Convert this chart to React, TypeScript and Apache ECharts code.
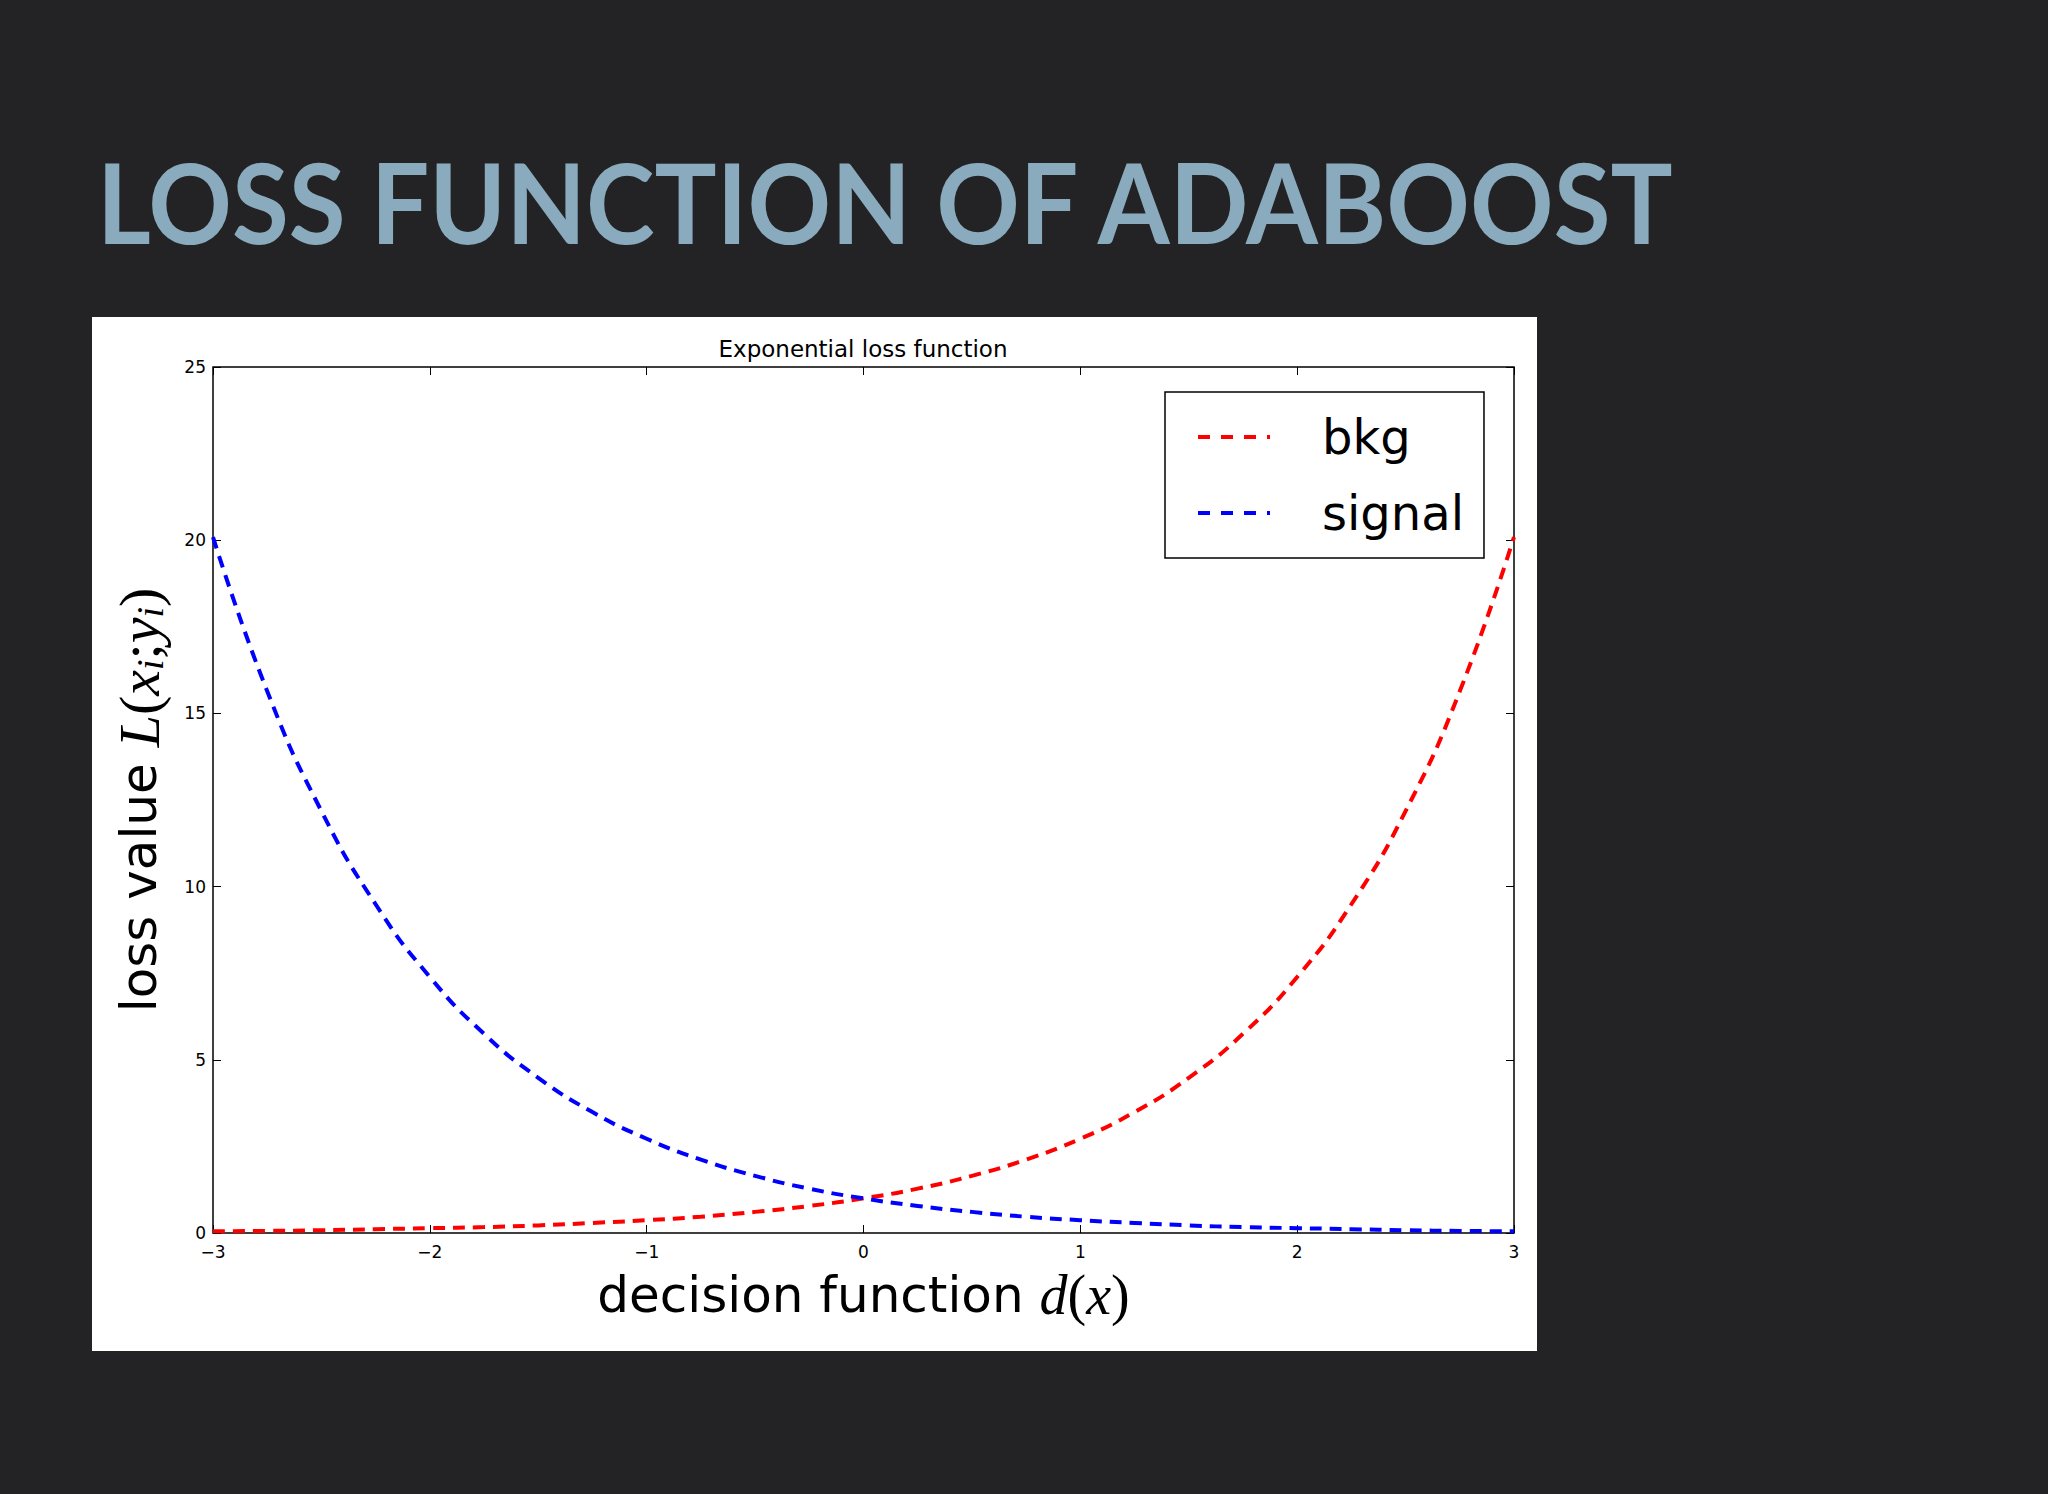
import { useEffect, useRef } from 'react';
import * as echarts from 'echarts';

// values (d(x) from -3 to 3, step 0.25)
const decisionValues = [
  -3, -2.75, -2.5, -2.25, -2, -1.75, -1.5, -1.25, -1, -0.75, -0.5, -0.25, 0,
  0.25, 0.5, 0.75, 1, 1.25, 1.5, 1.75, 2, 2.25, 2.5, 2.75, 3,
];
const bkgLoss = [
  0.05, 0.06, 0.08, 0.11, 0.14, 0.17, 0.22, 0.29, 0.37, 0.47, 0.61, 0.78, 1.0,
  1.28, 1.65, 2.12, 2.72, 3.49, 4.48, 5.75, 7.39, 9.49, 12.18, 15.64, 20.09,
];
const signalLoss = [
  20.09, 15.64, 12.18, 9.49, 7.39, 5.75, 4.48, 3.49, 2.72, 2.12, 1.65, 1.28, 1.0,
  0.78, 0.61, 0.47, 0.37, 0.29, 0.22, 0.17, 0.14, 0.11, 0.08, 0.06, 0.05,
];
const seriesNames = ['bkg', 'signal'];
const seriesColors = ['#ff0000', '#0000ff'];

const SANS = '"DejaVu Sans", sans-serif';
const MATH = '"Liberation Serif", "DejaVu Serif", serif';

// dashed-line legend sample: three dashes and a short stub
const DASH_ICON = 'path://M0,0h12v4h-12z M23,0h12v4h-12z M46,0h12v4h-12z M69,0h3v4h-3z';

const App: React.FC = () => {
  const chartRef = useRef<HTMLDivElement>(null);

  useEffect(() => {
    if (!chartRef.current) return;
    const chart = echarts.init(chartRef.current, undefined, { renderer: 'svg' });

    const minus = (v: number) => String(v).replace('-', '\u2212');
    const tick = { show: true, inside: true, length: 8, lineStyle: { color: '#000', width: 1 } };
    const noLine = { show: false, onZero: false };

    const option: echarts.EChartsOption = {
      animation: false,
      backgroundColor: '#232325',
      graphic: [
        {
          type: 'rect',
          z: -1,
          silent: true,
          shape: { x: 92, y: 317, width: 1445, height: 1034 },
          style: { fill: '#ffffff' },
        },
        {
          type: 'text',
          x: 97,
          y: 201,
          scaleX: 0.925,
          silent: true,
          style: {
            text: 'LOSS FUNCTION OF ADABOOST',
            font: `700 112px Lato, "Open Sans", sans-serif`,
            fill: '#8aabbd',
            verticalAlign: 'middle',
          },
        },
        {
          type: 'text',
          x: 863,
          y: 349,
          silent: true,
          style: {
            text: 'Exponential loss function',
            font: `23px ${SANS}`,
            fill: '#000',
            align: 'center',
            verticalAlign: 'middle',
          },
        },
      ],
      grid: {
        left: 213,
        top: 367,
        width: 1301,
        height: 866,
        show: true,
        backgroundColor: '#fff',
        borderColor: '#000',
        borderWidth: 1.5,
      },
      legend: {
        left: 1165,
        top: 392,
        orient: 'vertical',
        data: seriesNames.map((name, i) => ({
          name,
          icon: DASH_ICON,
          itemStyle: { color: seriesColors[i], borderWidth: 0 },
        })),
        itemWidth: 72,
        itemHeight: 4,
        itemGap: 26,
        padding: [20, 20, 20, 33],
        borderColor: '#000',
        borderWidth: 1.5,
        backgroundColor: '#fff',
        textStyle: {
          fontFamily: SANS,
          fontSize: 48,
          lineHeight: 50,
          color: '#000',
          padding: [0, 0, 0, 47],
        },
      },
      xAxis: [
        {
          type: 'value',
          min: -3,
          max: 3,
          interval: 1,
          name: '{a|decision function }{m|d}{p|(}{m|x}{p|)}',
          nameLocation: 'middle',
          nameGap: 34,
          nameTextStyle: {
            rich: {
              a: { fontFamily: SANS, fontSize: 50, color: '#000' },
              m: { fontFamily: MATH, fontStyle: 'italic', fontSize: 56, color: '#000' },
              p: { fontFamily: MATH, fontSize: 56, color: '#000' },
            },
          },
          axisLine: noLine,
          axisTick: tick,
          splitLine: { show: false },
          axisLabel: {
            margin: 10,
            fontFamily: SANS,
            fontSize: 17,
            color: '#000',
            formatter: (v: number) => minus(v),
          },
        },
        {
          type: 'value',
          position: 'top',
          min: -3,
          max: 3,
          interval: 1,
          axisLine: noLine,
          axisTick: tick,
          splitLine: { show: false },
          axisLabel: { show: false },
        },
      ],
      yAxis: [
        {
          type: 'value',
          min: 0,
          max: 25,
          interval: 5,
          name: '{a|loss value }{m|L}{p|(}{m|x}{s|i}{p|;}{m|y}{s|i}{p|)}',
          nameLocation: 'middle',
          nameGap: 44,
          nameRotate: 90,
          nameTextStyle: {
            rich: {
              a: { fontFamily: SANS, fontSize: 50, lineHeight: 60, color: '#000' },
              m: { fontFamily: MATH, fontStyle: 'italic', fontSize: 58, lineHeight: 60, color: '#000' },
              p: { fontFamily: MATH, fontSize: 58, lineHeight: 60, color: '#000' },
              s: { fontFamily: MATH, fontStyle: 'italic', fontSize: 38, lineHeight: 44, verticalAlign: 'bottom', color: '#000' },
            },
          },
          axisLine: noLine,
          axisTick: tick,
          splitLine: { show: false },
          axisLabel: {
            margin: 7,
            fontFamily: SANS,
            fontSize: 17,
            color: '#000',
          },
        },
        {
          type: 'value',
          position: 'right',
          min: 0,
          max: 25,
          interval: 5,
          axisLine: noLine,
          axisTick: tick,
          splitLine: { show: false },
          axisLabel: { show: false },
        },
      ],
      series: [
        {
          name: seriesNames[0],
          type: 'line',
          data: decisionValues.map((x, i) => [x, bkgLoss[i]]),
          smooth: true,
          symbol: 'none',
          clip: false,
          lineStyle: { color: seriesColors[0], width: 4, type: [12, 8] },
          itemStyle: { color: seriesColors[0] },
        },
        {
          name: seriesNames[1],
          type: 'line',
          data: decisionValues.map((x, i) => [x, signalLoss[i]]),
          smooth: true,
          symbol: 'none',
          clip: false,
          lineStyle: { color: seriesColors[1], width: 4, type: [12, 8] },
          itemStyle: { color: seriesColors[1] },
        },
      ],
    };

    chart.setOption(option);

    return () => {
      chart.dispose();
    };
  }, []);

  return (
    <div
      ref={chartRef}
      style={{ position: 'absolute', left: 0, top: 0, width: '2048px', height: '1494px' }}
    />
  );
};

export default App;
